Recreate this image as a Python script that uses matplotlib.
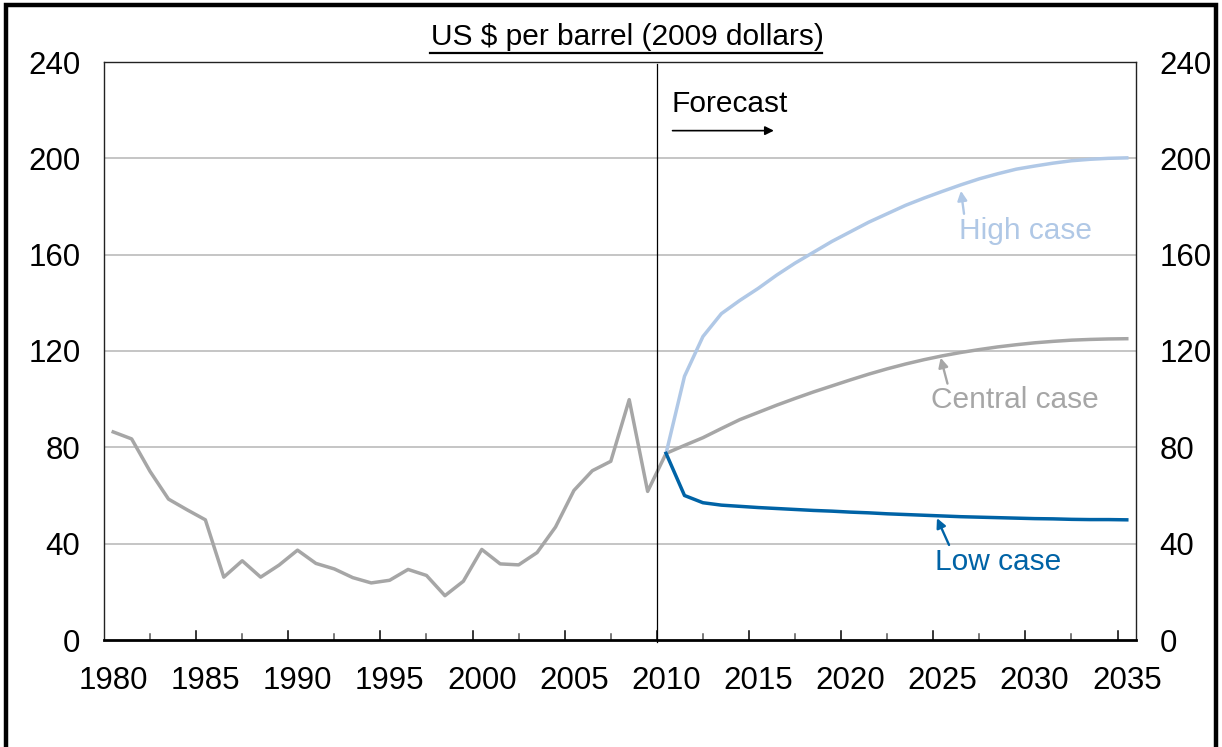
#!/usr/bin/env python3
"""Oil price outlook: history plus high / central / low forecast cases."""
import matplotlib.pyplot as plt
from matplotlib.patches import Rectangle
from matplotlib.lines import Line2D
import numpy as np

GREY = "#a6a6a6"
LIGHT_BLUE = "#b0c8e6"
DARK_BLUE = "#0063a6"
GRID = "#c0c0c0"

plt.rcParams.update({
    "font.family": ["Liberation Sans", "DejaVu Sans"],
})

# historical prices, 1980-2010
hist_years = list(range(1980, 2011))
hist_price = [86.4, 83.5, 70.0, 58.5, 54.1, 49.9, 26.1, 32.9, 26.1, 31.1,
              37.3, 31.8, 29.5, 25.9, 23.7, 24.8, 29.3, 26.8, 18.4, 24.4,
              37.6, 31.6, 31.2, 36.3, 46.9, 62.1, 70.3, 74.2, 99.8, 61.7,
              77.5]

# forecast cases, 2010-2035
fc_years = list(range(2010, 2036))
high_case = [77.5, 109.5, 126.0, 135.5, 141.0, 146.0, 151.5, 156.5, 161.0, 165.5,
             169.5, 173.5, 177.0, 180.5, 183.5, 186.3, 189.0, 191.5, 193.6, 195.5,
             196.8, 198.0, 199.0, 199.6, 200.0, 200.2]
central_case = [77.5, 80.8, 84.0, 87.8, 91.5, 94.5, 97.5, 100.3, 103.0, 105.5,
                108.0, 110.4, 112.6, 114.6, 116.4, 118.0, 119.4, 120.6, 121.7, 122.6,
                123.4, 124.0, 124.5, 124.8, 125.0, 125.1]
low_case = [77.5, 60.0, 57.0, 56.0, 55.5, 55.0, 54.6, 54.2, 53.8, 53.5,
            53.1, 52.8, 52.4, 52.1, 51.8, 51.5, 51.2, 51.0, 50.8, 50.6,
            50.4, 50.3, 50.1, 50.0, 50.0, 49.9]

yticks = [0, 40, 80, 120, 160, 200, 240]
xlabels = list(range(1980, 2036, 5))

fig = plt.figure(figsize=(12.22, 7.47), dpi=100)
ax = fig.add_axes([104 / 1222, 1 - 640 / 747, 1032 / 1222, 578 / 747])

# outer frame round the whole chart (bottom edge runs off the picture)
fig.patches.append(Rectangle((6 / 1222, -0.05), 1210 / 1222, 1.05 - 5 / 747,
                             transform=fig.transFigure, fill=False,
                             ec="black", lw=3.2))

for v in yticks[1:-1]:
    ax.axhline(v, color=GRID, lw=1.3, zorder=1)

ax.plot(hist_years, hist_price, color=GREY, lw=2.5, zorder=3)
ax.plot(fc_years, central_case, color=GREY, lw=2.5, zorder=3)
ax.plot(fc_years, high_case, color=LIGHT_BLUE, lw=2.5, zorder=3)
ax.plot(fc_years, low_case, color=DARK_BLUE, lw=2.5, zorder=4)

# forecast divider
ax.plot([2009.5, 2009.5], [-1, 239], color="black", lw=0.9, zorder=5,
        clip_on=False)

ax.set_xlim(1979.5, 2035.5)
ax.set_ylim(0, 240)

ax.set_yticks(yticks)
ax.tick_params(axis="y", length=0, labelsize=22.5, pad=17,
               left=False, right=False, labelleft=True, labelright=True)

ax.set_xticks(xlabels)
ax.set_xticklabels([str(y) for y in xlabels])
ax.tick_params(axis="x", length=0, labelsize=22.5, pad=19)

# tick marks between categories, pointing up into the plot
for xm in np.arange(1984.5, 2035, 5):
    ax.plot([xm, xm], [0, 3.8], color="black", lw=1.1, zorder=2)
for xm in np.arange(1982, 2035, 5):
    ax.plot([xm, xm], [0, 2.6], color="#555555", lw=1.1, zorder=2)

for side in ["left", "top", "right"]:
    ax.spines[side].set_linewidth(1.0)
    ax.spines[side].set_color("#222222")
ax.spines["bottom"].set_linewidth(2.0)

# title with underline
fig.text(627 / 1222, 1 - 37 / 747, "US $ per barrel (2009 dollars)",
         ha="center", va="center", fontsize=21.5)
fig.add_artist(Line2D([430 / 1222, 822 / 1222], [1 - 53 / 747, 1 - 53 / 747],
                      transform=fig.transFigure, color="black", lw=1.6))

# forecast marker
ax.text(2010.3, 222.5, "Forecast", fontsize=21.5, ha="left", va="center")
ax.annotate("", xy=(2016.0, 211.5), xytext=(2010.2, 211.5),
            arrowprops=dict(arrowstyle="-|>", color="black", lw=1.2,
                            mutation_scale=13))

# case labels
ax.annotate("High case", xy=(2026.0, 186.5), xytext=(2025.9, 170.0),
            fontsize=21.5, color=LIGHT_BLUE, ha="left", va="center",
            arrowprops=dict(arrowstyle="-|>", color=LIGHT_BLUE, lw=1.7,
                            mutation_scale=14, shrinkA=0, shrinkB=0,
                            relpos=(0.04, 1.0)))
ax.annotate("Central case", xy=(2024.9, 117.2), xytext=(2024.4, 99.5),
            fontsize=21.5, color=GREY, ha="left", va="center",
            arrowprops=dict(arrowstyle="-|>", color=GREY, lw=1.7,
                            mutation_scale=14, shrinkA=0, shrinkB=0,
                            relpos=(0.1, 1.0)))
ax.annotate("Low case", xy=(2024.7, 50.6), xytext=(2024.6, 32.5),
            fontsize=21.5, color=DARK_BLUE, ha="left", va="center",
            arrowprops=dict(arrowstyle="-|>", color=DARK_BLUE, lw=1.7,
                            mutation_scale=14, shrinkA=0, shrinkB=0,
                            relpos=(0.12, 1.0)))

fig.savefig("out.png", dpi=100)
print("wrote out.png")
